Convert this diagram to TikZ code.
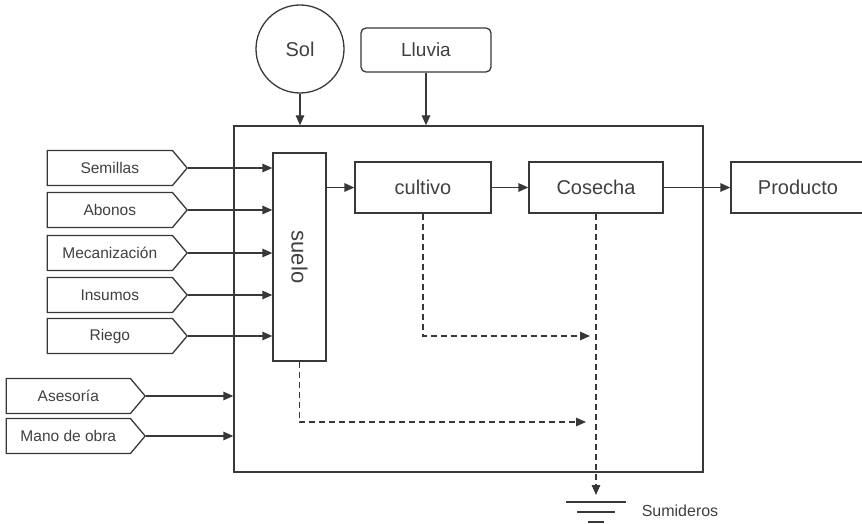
\documentclass[tikz,border=0pt]{standalone}
\usepackage{fontspec}
\setmainfont{Liberation Sans}
\usetikzlibrary{arrows.meta}
\usetikzlibrary{shapes.symbols}

\tikzset{
  ink/.style={draw=black!78, line width=1.3pt},
  arr/.style={ink, -{Triangle[length=10pt,width=8.5pt]}},
  dasharr/.style={arr, dash pattern=on 6pt off 4pt},
  inflow/.style={ink, signal, signal to=east, signal pointer angle=100,
    minimum width=140pt, minimum height=35pt, inner sep=0pt, anchor=east,
    text=black!75, font=\fontsize{15.5}{17}\selectfont},
  proc/.style={ink, rectangle, minimum height=51pt, inner sep=0pt,
    text=black!75, font=\fontsize{20}{22}\selectfont}
}

\begin{document}
\begin{tikzpicture}[x=1pt,y=-1pt]
\useasboundingbox (0,0) rectangle (862,524);

% system boundary
\node[ink, rectangle, minimum width=469pt, minimum height=346pt] (sys) at (468.5,299) {};

% outside sources
\node[ink, circle, minimum size=88pt, inner sep=0pt, text=black!75,
  font=\fontsize{20}{22}\selectfont] (sol) at (300,49) {Sol};
\node[ink, rectangle, rounded corners=5pt, minimum width=130pt, minimum height=44pt,
  text=black!75, font=\fontsize{19}{21}\selectfont] (lluvia) at (426,50) {Lluvia};

\draw[arr] (sol.south) -- (sol.south |- sys.north);
\draw[arr] (lluvia.south) -- (lluvia.south |- sys.north);

% inside
\node[ink, rectangle, minimum width=53pt, minimum height=208pt, inner sep=0pt,
  text=black!75, font=\fontsize{22}{24}\selectfont] (suelo) at (299.5,257) {\rotatebox{-90}{suelo}};
\node[proc, minimum width=136pt] (cultivo) at (423,187.5) {cultivo};
\node[proc, minimum width=134pt] (cosecha) at (596,187.5) {Cosecha};
\node[proc, minimum width=134pt] (producto) at (798,187.5) {Producto};

% inputs to suelo
\node[inflow] (semillas) at (188,168) {Semillas};
\node[inflow] (abonos) at (188,210) {Abonos};
\node[inflow] (mecanizacion) at (188,253) {Mecanización};
\node[inflow] (insumos) at (188,295) {Insumos};
\node[inflow] (riego) at (188,336) {Riego};

\draw[arr] (semillas.east) -- (semillas.east -| suelo.west);
\draw[arr] (abonos.east) -- (abonos.east -| suelo.west);
\draw[arr] (mecanizacion.east) -- (mecanizacion.east -| suelo.west);
\draw[arr] (insumos.east) -- (insumos.east -| suelo.west);
\draw[arr] (riego.east) -- (riego.east -| suelo.west);

% inputs to the system
\node[inflow, minimum width=139pt] (asesoria) at (146,396) {Asesoría};
\node[inflow, minimum width=139pt] (manodeobra) at (146,436) {Mano de obra};

\draw[arr] (asesoria.east) -- (asesoria.east -| sys.west);
\draw[arr] (manodeobra.east) -- (manodeobra.east -| sys.west);

% main flow
\draw[arr] (suelo.east |- cultivo.west) -- (cultivo.west);
\draw[arr] (cultivo) -- (cosecha);
\draw[arr] (cosecha) -- (producto);

% losses
\coordinate (lossa) at (590,336);
\coordinate (lossb) at (586,422);
\coordinate (sink) at (596,495);
\draw[dasharr] (cultivo.south) |- (lossa);
\draw[dasharr] (suelo.south) |- (lossb);
\draw[dasharr] (cosecha.south) -- (sink);

% ground
\draw[ink] (sink) ++(-30,7) -- ++(60,0);
\draw[ink] (sink) ++(-19,17) -- ++(38,0);
\draw[ink] (sink) ++(-8,27) -- ++(16,0);
\node[text=black!75, font=\fontsize{16}{18}\selectfont] (sumideros) at (680,511) {Sumideros};
\end{tikzpicture}
\end{document}
